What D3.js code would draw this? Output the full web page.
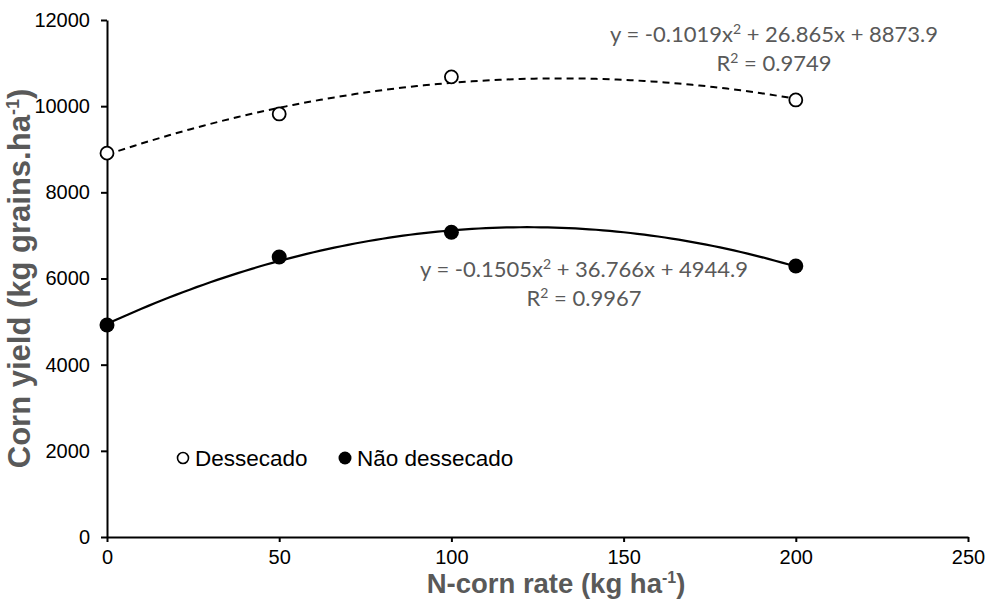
<!DOCTYPE html>
<html>
<head>
<meta charset="utf-8">
<script src="https://cdn.jsdelivr.net/npm/d3@7"></script>
<style>
  body { margin: 0; background: #fff; }
  svg { display: block; font-family: "Liberation Sans", Arial, sans-serif; }
</style>
</head>
<body>
<svg id="chart"></svg>
<script>
// values
var rates = [0, 50, 100, 200];
var dessecado = [8910, 9820, 10680, 10145];
var naoDessecado = [4920, 6500, 7075, 6290];

// trendline coefficients as printed on the chart (a x^2 + b x + c)
var fitDessecado = [-0.1019, 26.865, 8873.9];
var fitNao = [-0.1505, 36.766, 4944.9];
var r2Dessecado = "0.9749";
var r2Nao = "0.9967";

var xTicks = [0, 50, 100, 150, 200, 250];
var yTicks = [0, 2000, 4000, 6000, 8000, 10000, 12000];

var width = 989,
    height = 600,
    margin = {top: 20, right: 21, bottom: 63, left: 107};

var svg = d3.select("#chart")
    .attr("width", width)
    .attr("height", height);

var x = d3.scaleLinear().domain([0, 250]).range([margin.left, width - margin.right]);
var y = d3.scaleLinear().domain([0, 12000]).range([height - margin.bottom, margin.top]);

// axes
var xAxis = svg.append("g")
    .attr("transform", "translate(0," + y(0) + ")")
    .call(d3.axisBottom(x).tickValues(xTicks).tickFormat(d3.format("d"))
      .tickSize(5).tickPadding(8).tickSizeOuter(0));
var yAxis = svg.append("g")
    .attr("transform", "translate(" + x(0) + ",0)")
    .call(d3.axisLeft(y).tickValues(yTicks).tickFormat(d3.format("d"))
      .tickSize(6).tickPadding(11).tickSizeOuter(0));

[xAxis, yAxis].forEach(function(a) {
  a.attr("font-family", "Liberation Sans, Arial, sans-serif").attr("font-size", 20);
  a.select(".domain").attr("stroke", "#000").attr("stroke-width", 2);
  a.selectAll(".tick line").attr("stroke", "#000").attr("stroke-width", 2);
  a.selectAll(".tick text").attr("fill", "#000");
});

// axis titles
svg.append("text")
    .attr("x", 556)
    .attr("y", 593)
    .attr("text-anchor", "middle")
    .attr("fill", "#595959")
    .style("font-size", "27.5px")
    .style("font-weight", "bold")
    .html('N-corn rate (kg ha<tspan dy="-10" font-size="16px">-1</tspan><tspan dy="10">)</tspan>');

svg.append("text")
    .attr("transform", "translate(30," + (y(0) + y(12000)) / 2 + ") rotate(-90)")
    .attr("text-anchor", "middle")
    .attr("fill", "#595959")
    .style("font-size", "31px")
    .style("font-weight", "bold")
    .html('Corn yield (kg grains.ha<tspan dy="-11" font-size="18px">-1</tspan><tspan dy="11">)</tspan>');

// trendlines
function quad(c) {
  return function(v) { return c[0] * v * v + c[1] * v + c[2]; };
}
var xs = d3.range(0, 200.5, 2);
var line = d3.line()
    .x(function(d) { return x(d[0]); })
    .y(function(d) { return y(d[1]); });

var fD = quad(fitDessecado), fN = quad(fitNao);

svg.append("path")
    .datum(xs.map(function(v) { return [v, fD(v)]; }))
    .attr("d", line)
    .attr("fill", "none")
    .attr("stroke", "#000")
    .attr("stroke-width", 2)
    .attr("stroke-dasharray", "7,5");

svg.append("path")
    .datum(xs.map(function(v) { return [v, fN(v)]; }))
    .attr("d", line)
    .attr("fill", "none")
    .attr("stroke", "#000")
    .attr("stroke-width", 2.2);

// points
svg.append("g").selectAll("circle")
    .data(rates.map(function(r, i) { return [r, dessecado[i]]; }))
    .enter().append("circle")
    .attr("cx", function(d) { return x(d[0]); })
    .attr("cy", function(d) { return y(d[1]); })
    .attr("r", 6.5)
    .attr("fill", "#fff")
    .attr("stroke", "#000")
    .attr("stroke-width", 1.8);

svg.append("g").selectAll("circle")
    .data(rates.map(function(r, i) { return [r, naoDessecado[i]]; }))
    .enter().append("circle")
    .attr("cx", function(d) { return x(d[0]); })
    .attr("cy", function(d) { return y(d[1]); })
    .attr("r", 7.5)
    .attr("fill", "#000");

// equations
function equation(g, c, r2, cx, cy) {
  g.append("text")
      .attr("x", cx).attr("y", cy)
      .attr("text-anchor", "middle")
      .attr("fill", "#595959")
      .style("font-family", "Lato, 'Open Sans', sans-serif")
      .style("font-size", "22px")
      .html("y = " + c[0] + 'x<tspan dy="-8" font-size="14px">2</tspan><tspan dy="8"> + ' +
         c[1] + "x + " + c[2] + "</tspan>");
  g.append("text")
      .attr("x", cx).attr("y", cy + 29)
      .attr("text-anchor", "middle")
      .attr("fill", "#595959")
      .style("font-family", "Lato, 'Open Sans', sans-serif")
      .style("font-size", "22px")
      .html('R<tspan dy="-8" font-size="14px">2</tspan><tspan dy="8"> = ' + r2 + "</tspan>");
}
var eqs = svg.append("g");
equation(eqs, fitDessecado, r2Dessecado, 774, 42);
equation(eqs, fitNao, r2Nao, 584, 277);

// legend
var legend = svg.append("g").attr("transform", "translate(183,458)");
legend.append("circle").attr("r", 5.5).attr("fill", "#fff").attr("stroke", "#000").attr("stroke-width", 1.6);
legend.append("text").attr("x", 12).attr("y", 8).style("font-size", "22.5px").attr("fill", "#000").text("Dessecado");
legend.append("circle").attr("cx", 162).attr("r", 6.5).attr("fill", "#000");
legend.append("text").attr("x", 174).attr("y", 8).style("font-size", "22.5px").attr("fill", "#000").text("Não dessecado");
</script>
</body>
</html>
